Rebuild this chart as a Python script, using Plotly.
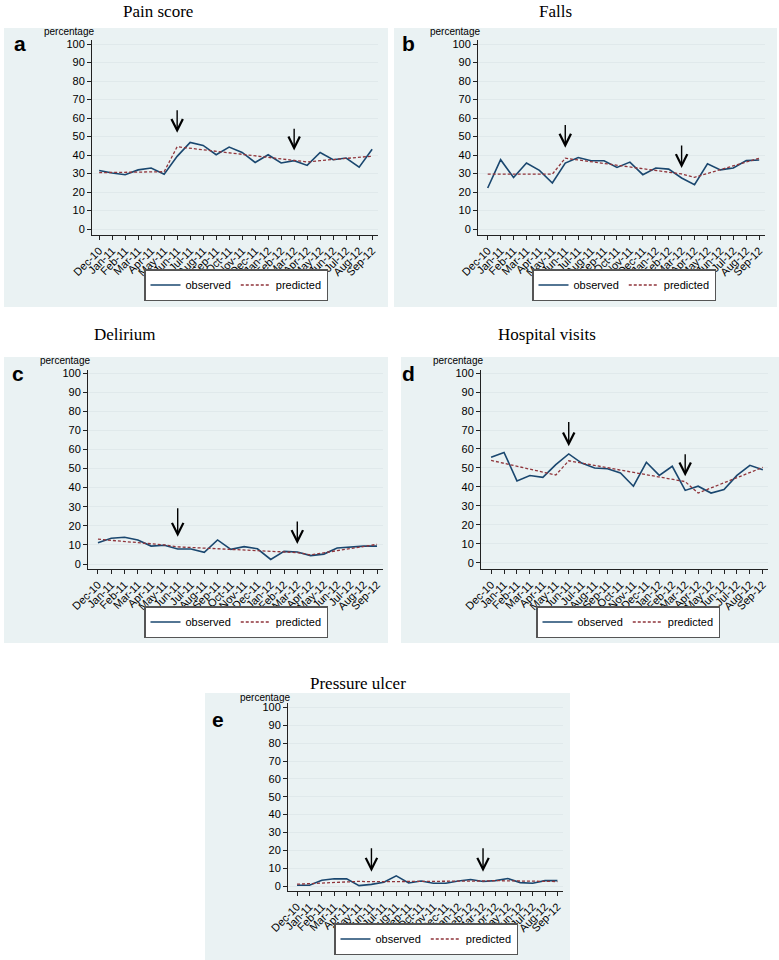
import plotly.graph_objects as go

W, H = 779, 960

months = ["Dec-10", "Jan-11", "Feb-11", "Mar-11", "Apr-11", "May-11", "Jun-11",
          "Jul-11", "Aug-11", "Sep-11", "Oct-11", "Nov-11", "Dec-11", "Jan-12",
          "Feb-12", "Mar-12", "Apr-12", "May-12", "Jun-12", "Jul-12", "Aug-12", "Sep-12"]
y_ticks = [0, 10, 20, 30, 40, 50, 60, 70, 80, 90, 100]

titles = ["Pain score", "Falls", "Delirium", "Hospital visits", "Pressure ulcer"]
letters = ["a", "b", "c", "d", "e"]

pain_obs = [31.7, 30.3, 29.4, 32.0, 33.0, 29.7, 39.3, 46.8, 45.2, 40.2, 44.3, 41.4,
            36.0, 40.2, 35.7, 37.0, 34.4, 41.4, 37.5, 38.4, 33.5, 43.2]
pain_pred = [30.5, 30.6, 30.7, 30.8, 30.9, 31.0, 44.5, 43.7, 42.9, 42.1, 41.3, 40.5,
             39.7, 38.9, 38.1, 37.3, 36.3, 37.0, 37.6, 38.2, 38.8, 39.4]

falls_obs = [22.2, 37.5, 27.9, 35.7, 31.7, 24.9, 35.7, 38.7, 36.9, 36.9, 33.3, 36.2,
             29.4, 33.0, 32.4, 27.6, 24.0, 35.3, 32.0, 33.0, 37.0, 37.3]
falls_pred = [29.7, 29.7, 29.7, 29.7, 29.7, 29.7, 38.3, 37.4, 36.4, 35.5, 34.5, 33.6,
              32.6, 31.7, 30.7, 29.8, 28.0, 30.0, 32.0, 34.1, 36.2, 38.3]

delirium_obs = [11.2, 13.5, 14.0, 12.6, 9.4, 9.8, 7.9, 7.9, 6.1, 12.6, 7.7, 9.1,
                8.0, 2.4, 6.6, 6.3, 4.4, 5.2, 8.4, 9.1, 9.4, 9.4]
delirium_pred = [13.0, 12.4, 11.8, 11.2, 10.6, 10.0, 9.0, 8.7, 8.4, 8.0, 7.7, 7.4,
                 7.0, 6.7, 6.3, 6.0, 4.8, 5.9, 7.0, 8.1, 9.2, 10.3]

hospital_obs = [55.6, 58.2, 43.2, 46.0, 45.1, 51.8, 57.4, 52.6, 50.0, 49.6, 47.4, 40.4,
                53.0, 46.1, 50.9, 38.2, 40.4, 36.8, 38.6, 46.1, 51.4, 49.1]
hospital_pred = [54.0, 52.5, 50.9, 49.4, 47.8, 46.3, 53.8, 52.6, 51.4, 50.1, 48.9, 47.7,
                 46.4, 45.2, 44.0, 42.8, 36.8, 39.5, 42.2, 44.9, 47.6, 50.3]

ulcer_obs = [0.4, 0.4, 3.2, 4.1, 4.0, 0.2, 0.9, 2.1, 5.7, 1.7, 2.8, 1.5,
             1.5, 2.8, 3.6, 2.5, 3.0, 4.2, 1.9, 1.5, 3.0, 3.0]
ulcer_pred = [1.0, 1.3, 1.6, 2.0, 2.3, 2.6, 2.4, 2.4, 2.5, 2.5, 2.6, 2.6,
              2.7, 2.7, 2.8, 2.8, 3.0, 2.9, 2.8, 2.7, 2.6, 2.5]

observed = [pain_obs, falls_obs, delirium_obs, hospital_obs, ulcer_obs]
predicted = [pain_pred, falls_pred, delirium_pred, hospital_pred, ulcer_pred]

# interruption arrows (months and arrow tail/tip heights per panel)
arrow_months = ["Jun-11", "Mar-12"]
arrow_tail = [[65, 55], [57, 46], [30, 23], [75, 58], [22, 22]]
arrow_tip = [[52, 42.5], [44, 33], [14.3, 10.5], [61.4, 45.6], [8, 8]]

# ---------------- layout (pixel geometry) ----------------
panels = [
    dict(plot=(92, 378, 40, 235), yr=(-3.2, 102.2), xr=(-0.55, 21.45),
         bg=(4, 388, 28, 307), title=(158, 12), letter=(20, 43),
         legend=(236, 285), top_tick=44),
    dict(plot=(478, 765, 40, 235), yr=(-3.2, 102.2), xr=(-0.75, 21.45),
         bg=(394, 777, 28, 307), title=(555, 12), letter=(408, 43),
         legend=(624, 285), top_tick=44),
    dict(plot=(88, 383, 370, 569), yr=(-2.6, 101.6), xr=(-0.75, 21.45),
         bg=(4, 388, 357, 643), title=(124, 335), letter=(18, 373),
         legend=(236, 622), top_tick=373),
    dict(plot=(481, 768, 370, 569), yr=(-3.2, 101.6), xr=(-0.78, 21.4),
         bg=(401, 779, 357, 643), title=(547, 335), letter=(408, 373),
         legend=(628, 622), top_tick=373),
    dict(plot=(288, 563, 703, 891), yr=(-2.8, 102.5), xr=(-0.73, 21.45),
         bg=(205, 570, 693, 960), title=(358, 683), letter=(218, 719),
         legend=(426, 939), top_tick=709),
]

OBS_COLOR = "#1a476f"
PRED_COLOR = "#90353b"
BG_COLOR = "#eaf2f3"
GRID_COLOR = "#e0e9eb"
AXIS_COLOR = "#222222"
TEXT_COLOR = "#000000"
SANS = "Liberation Sans, Arial"

def px_x(px):
    return px / W

def px_y(py):
    return 1 - py / H

fig = go.Figure()
shapes = []
annotations = []
layout_axes = {}

for i, p in enumerate(panels):
    n = i + 1
    xa = "x" if n == 1 else f"x{n}"
    ya = "y" if n == 1 else f"y{n}"
    lg = "legend" if n == 1 else f"legend{n}"
    l, r, t, b = p["plot"]

    fig.add_trace(go.Scatter(x=months, y=observed[i], mode="lines", name="observed",
                             line=dict(color=OBS_COLOR, width=1.6),
                             xaxis=xa, yaxis=ya, legend=lg))
    fig.add_trace(go.Scatter(x=months, y=predicted[i], mode="lines", name="predicted",
                             line=dict(color=PRED_COLOR, width=1.3, dash="3px,2px"),
                             xaxis=xa, yaxis=ya, legend=lg))

    xkey = "xaxis" if n == 1 else f"xaxis{n}"
    ykey = "yaxis" if n == 1 else f"yaxis{n}"
    layout_axes[xkey] = dict(
        domain=[px_x(l), px_x(r)], anchor=ya, type="category",
        categoryorder="array", categoryarray=months, automargin=False,
        range=list(p["xr"]), tickmode="array", tickvals=months, ticktext=months,
        tickangle=-45, ticks="outside", ticklen=4, tickcolor=AXIS_COLOR,
        showline=True, linecolor=AXIS_COLOR, linewidth=1, showgrid=False,
        zeroline=False, fixedrange=True,
        tickfont=dict(family=SANS, size=11, color=TEXT_COLOR),
    )
    layout_axes[ykey] = dict(
        domain=[px_y(b), px_y(t)], anchor=xa, range=list(p["yr"]), automargin=False,
        tickmode="array", tickvals=y_ticks, ticktext=[str(v) for v in y_ticks],
        ticks="outside", ticklen=4, tickcolor=AXIS_COLOR,
        showline=True, linecolor=AXIS_COLOR, linewidth=1,
        showgrid=True, gridcolor=GRID_COLOR, gridwidth=1, zeroline=False,
        fixedrange=True,
        tickfont=dict(family=SANS, size=11, color=TEXT_COLOR),
    )

    bl, br, bt, bb = p["bg"]
    shapes.append(dict(type="rect", xref="paper", yref="paper",
                       x0=px_x(bl), x1=px_x(br), y0=px_y(bb), y1=px_y(bt),
                       fillcolor=BG_COLOR, line=dict(width=0), layer="below"))

    tx, ty = p["title"]
    annotations.append(dict(text=titles[i], xref="paper", yref="paper",
                            x=px_x(tx), y=px_y(ty), xanchor="center", yanchor="middle",
                            showarrow=False,
                            font=dict(family="Liberation Serif, Times New Roman", size=17,
                                      color=TEXT_COLOR)))
    lx, ly = p["letter"]
    annotations.append(dict(text=f"<b>{letters[i]}</b>", xref="paper", yref="paper",
                            x=px_x(lx), y=px_y(ly), xanchor="center", yanchor="middle",
                            showarrow=False,
                            font=dict(family=SANS, size=21, color=TEXT_COLOR)))
    annotations.append(dict(text="percentage", xref="paper", yref="paper",
                            x=px_x(l + 4), y=px_y(p["top_tick"] - 12),
                            xanchor="right", yanchor="middle", showarrow=False,
                            font=dict(family=SANS, size=10, color=TEXT_COLOR)))
    for k, m in enumerate(arrow_months):
        annotations.append(dict(x=m, y=arrow_tip[i][k], ax=m, ay=arrow_tail[i][k],
                                xref=xa, yref=ya, axref=xa, ayref=ya,
                                text="", showarrow=True, arrowhead=5, arrowsize=1.6,
                                arrowwidth=1.4, arrowcolor="#000000"))

    gx, gy = p["legend"]
    layout_axes[lg] = dict(
        x=px_x(gx), y=px_y(gy), xanchor="center", yanchor="middle",
        orientation="h", bgcolor="#ffffff", bordercolor="#555555", borderwidth=1.5,
        font=dict(family=SANS, size=11, color=TEXT_COLOR),
        itemclick=False, itemdoubleclick=False, tracegroupgap=0,
    )

fig.update_layout(
    width=W, height=H, margin=dict(l=0, r=0, t=0, b=0, autoexpand=False),
    paper_bgcolor="#ffffff", plot_bgcolor="#ffffff",
    shapes=shapes, annotations=annotations, showlegend=True,
    **layout_axes,
)

fig.write_html("out.html", config={"displayModeBar": False},
               post_script="document.body.style.margin='0';document.body.style.padding='0';")
